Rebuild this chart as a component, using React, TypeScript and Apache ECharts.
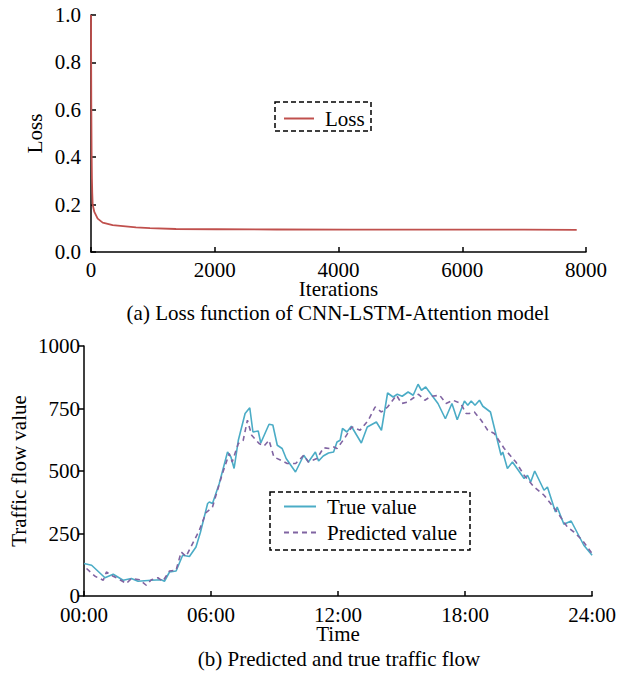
import React, { useEffect, useRef } from "react";
import * as echarts from "echarts";

// ---- Data (a) Loss ----
const lossIterations = [0, 5, 10, 15, 20, 27, 54, 108, 189, 350, 727, 953, 1374, 2030, 3000, 4185, 5000, 6000, 7000, 7850];
const lossValues = [1.0, 0.62, 0.42, 0.31, 0.25, 0.2, 0.169, 0.141, 0.124, 0.113, 0.104, 0.101, 0.097, 0.096, 0.095, 0.0946, 0.0945, 0.0943, 0.094, 0.093];
const lossXTicks = [0, 2000, 4000, 6000, 8000];

// ---- Data (b) Traffic flow (time in hours) ----
const trueTimes = [0, 0.36, 0.99, 1.38, 1.85, 2.24, 2.55, 3.18, 3.65, 3.8, 4.04, 4.35, 4.66, 4.98, 5.29, 5.5, 5.84, 5.92, 6.07, 6.39, 6.78, 6.94, 7.09, 7.29, 7.61, 7.83, 7.98, 8.23, 8.35, 8.74, 8.92, 9.13, 9.36, 9.55, 9.99, 10.38, 10.6, 10.93, 11.08, 11.3, 11.55, 11.79, 11.95, 12.1, 12.21, 12.42, 12.63, 13.1, 13.38, 13.81, 14.05, 14.34, 14.6, 14.8, 15.03, 15.31, 15.55, 15.78, 15.94, 16.14, 16.72, 17.07, 17.38, 17.63, 17.97, 18.13, 18.29, 18.47, 18.68, 18.84, 19.2, 19.7, 19.78, 20.0, 20.24, 20.79, 20.95, 21.1, 21.29, 21.73, 21.89, 22.27, 22.35, 22.67, 23.01, 23.61, 24];
const trueValues = [130, 123, 73, 87, 63, 70, 59, 63, 65, 59, 96, 100, 163, 158, 196, 255, 370, 376, 370, 450, 576, 556, 510, 623, 730, 753, 656, 660, 612, 687, 684, 603, 590, 550, 496, 563, 536, 576, 540, 560, 572, 576, 616, 623, 670, 656, 679, 612, 676, 696, 663, 812, 796, 807, 799, 816, 803, 847, 823, 836, 770, 709, 770, 705, 780, 763, 780, 763, 783, 759, 736, 563, 576, 510, 536, 470, 483, 456, 500, 423, 436, 336, 356, 287, 300, 203, 163];

const predTimes = [0.12, 0.52, 0.91, 1.06, 1.38, 1.6, 2.0, 2.24, 2.63, 2.94, 3.18, 3.49, 3.72, 4.04, 4.35, 4.59, 4.82, 5.21, 5.45, 5.76, 6.07, 6.54, 6.86, 7.0, 7.29, 7.52, 7.72, 7.92, 8.27, 8.5, 8.74, 8.97, 9.3, 9.6, 10.0, 10.38, 10.6, 11.0, 11.32, 11.6, 11.8, 11.95, 12.3, 12.65, 13.04, 13.43, 13.75, 14.05, 14.34, 14.76, 15.0, 15.3, 15.62, 15.8, 16.1, 16.4, 16.8, 17.1, 17.43, 17.8, 18.05, 18.2, 18.44, 18.76, 19.07, 19.38, 19.85, 20.4, 20.79, 21.26, 21.73, 22.04, 22.35, 22.83, 23.14, 23.54, 24.0];
const predValues = [110, 79, 63, 96, 79, 70, 50, 70, 65, 43, 65, 73, 59, 100, 103, 176, 158, 223, 263, 333, 356, 490, 570, 536, 610, 623, 703, 643, 610, 600, 623, 556, 543, 530, 530, 563, 536, 550, 593, 590, 596, 590, 630, 676, 663, 703, 756, 736, 756, 803, 770, 776, 796, 807, 783, 799, 803, 770, 783, 770, 730, 730, 736, 703, 663, 650, 590, 536, 483, 436, 403, 370, 336, 276, 256, 223, 170];
const timeTicks = ["00:00", "06:00", "12:00", "18:00", "24:00"];
const flowYTicks = [0, 250, 500, 750, 1000];

const FONT = '"Liberation Serif", "Times New Roman", serif';
const FS = 21;
const RED = "#C0504D";
const CYAN = "#4BACC6";
const PURPLE = "#8064A2";

export default function App() {
  const ref = useRef<HTMLDivElement>(null);
  useEffect(() => {
    if (!ref.current) return;
    const chart = echarts.init(ref.current, undefined, { renderer: "svg" });
    const tickStyle = { color: "#000", width: 1.5 };
    const labelBase = { color: "#000", fontFamily: FONT, fontSize: FS, lineHeight: 14 };
    const axisCommon = {
      axisLine: { show: true, lineStyle: { color: "#000", width: 1.5 } },
      splitLine: { show: false },
      nameTextStyle: { color: "#000", fontFamily: FONT, fontSize: FS, lineHeight: 15 },
      nameLocation: "middle" as const,
      nameMoveOverlap: false,
    };
    const legendText = { fontFamily: FONT, fontSize: FS, color: "#000", padding: [0, 0, 0, 6] };
    chart.setOption({
      animation: false,
      backgroundColor: "#fff",
      textStyle: { fontFamily: FONT },
      grid: [
        { left: 91, top: 15, width: 495, height: 237 },
        { left: 84, top: 346, width: 511, height: 250 },
      ],
      xAxis: [
        {
          ...axisCommon,
          gridIndex: 0,
          type: "value",
          min: lossXTicks[0],
          max: lossXTicks[lossXTicks.length - 1],
          interval: lossXTicks[1] - lossXTicks[0],
          name: "Iterations",
          nameGap: 29,
          axisTick: { show: true, inside: true, length: 5, lineStyle: tickStyle },
          axisLabel: { ...labelBase, margin: 11, formatter: (v: number) => String(v) },
        },
        {
          ...axisCommon,
          gridIndex: 1,
          type: "value",
          min: 0,
          max: 24,
          interval: 6,
          name: "Time",
          nameGap: 30,
          axisTick: { show: true, inside: true, length: 5, lineStyle: tickStyle },
          axisLabel: {
            ...labelBase,
            margin: 12,
            formatter: (v: number) => timeTicks[Math.round(v / 6)] ?? "",
          },
        },
      ],
      yAxis: [
        {
          ...axisCommon,
          gridIndex: 0,
          type: "value",
          min: 0,
          max: 1,
          interval: 0.2,
          name: "Loss",
          nameGap: 49,
          axisTick: { show: true, inside: true, length: 5, lineStyle: tickStyle },
          axisLabel: { ...labelBase, margin: 10, formatter: (v: number) => v.toFixed(1) },
        },
        {
          ...axisCommon,
          gridIndex: 1,
          type: "value",
          min: flowYTicks[0],
          max: flowYTicks[flowYTicks.length - 1],
          interval: flowYTicks[1] - flowYTicks[0],
          name: "Traffic flow value",
          nameGap: 58,
          axisTick: { show: true, inside: false, length: 6, lineStyle: tickStyle },
          axisLabel: { ...labelBase, margin: 4, padding: [0, 0, 2, 0], formatter: (v: number) => String(v) },
        },
      ],
      legend: [
        {
          data: ["Loss"],
          left: 283,
          top: 108,
          padding: 0,
          itemWidth: 30,
          itemHeight: 14,
          itemStyle: { opacity: 0 },
          textStyle: legendText,
        },
        {
          data: ["True value", "Predicted value"],
          orient: "vertical",
          left: 283,
          top: 496,
          padding: 0,
          itemGap: 5,
          itemWidth: 32,
          itemHeight: 14,
          itemStyle: { opacity: 0 },
          textStyle: legendText,
        },
      ],
      series: [
        {
          name: "Loss",
          type: "line",
          xAxisIndex: 0,
          yAxisIndex: 0,
          symbol: "none",
          data: lossIterations.map((x, i) => [x, lossValues[i]]),
          lineStyle: { color: RED, width: 1.8 },
          itemStyle: { color: RED },
        },
        {
          name: "True value",
          type: "line",
          xAxisIndex: 1,
          yAxisIndex: 1,
          symbol: "none",
          data: trueTimes.map((x, i) => [x, trueValues[i]]),
          lineStyle: { color: CYAN, width: 1.6 },
          itemStyle: { color: CYAN },
        },
        {
          name: "Predicted value",
          type: "line",
          xAxisIndex: 1,
          yAxisIndex: 1,
          symbol: "none",
          data: predTimes.map((x, i) => [x, predValues[i]]),
          lineStyle: { color: PURPLE, width: 1.6, type: [5, 4] },
          itemStyle: { color: PURPLE },
        },
      ],
      graphic: [
        {
          type: "rect",
          shape: { x: 275, y: 102, width: 96, height: 29 },
          style: { fill: "none", stroke: "#000", lineWidth: 1.5, lineDash: [5, 3] },
          silent: true,
        },
        {
          type: "rect",
          shape: { x: 270, y: 492, width: 200, height: 58 },
          style: { fill: "none", stroke: "#000", lineWidth: 1.5, lineDash: [5, 3] },
          silent: true,
        },
        {
          type: "text",
          x: 338,
          y: 313,
          style: {
            text: "(a) Loss function of CNN-LSTM-Attention model",
            font: `${FS}px ${FONT}`,
            fill: "#000",
            align: "center",
            verticalAlign: "middle",
          },
        },
        {
          type: "text",
          x: 339,
          y: 659,
          style: {
            text: "(b) Predicted and true traffic flow",
            font: `${FS}px ${FONT}`,
            fill: "#000",
            align: "center",
            verticalAlign: "middle",
          },
        },
      ],
    });
    return () => chart.dispose();
  }, []);
  return (
    <div
      ref={ref}
      style={{ position: "absolute", left: 0, top: 0, width: 619, height: 673, background: "#fff" }}
    />
  );
}
